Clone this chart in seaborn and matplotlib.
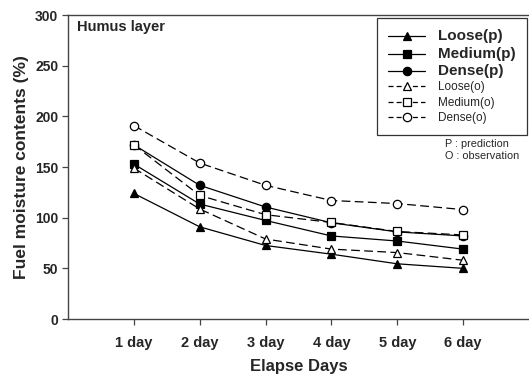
import matplotlib
matplotlib.use("Agg")
import matplotlib.pyplot as plt
import seaborn as sns
import pandas as pd

days = [1, 2, 3, 4, 5, 6]
day_labels = ["1 day", "2 day", "3 day", "4 day", "5 day", "6 day"]
loose_p = [124, 91, 72.6, 64, 54.5, 50]
medium_p = [153, 113.5, 97.3, 82, 77, 69]
dense_p = [172, 132, 110.6, 95, 86, 82]
loose_o = [149, 108.6, 79, 69, 65.6, 58]
medium_o = [172, 122, 103, 95.3, 86.4, 83]
dense_o = [191, 154, 132, 117, 114, 108]

series = [
    ("Loose(p)", loose_p, "^", "black", "-"),
    ("Medium(p)", medium_p, "s", "black", "-"),
    ("Dense(p)", dense_p, "o", "black", "-"),
    ("Loose(o)", loose_o, "^", "white", "--"),
    ("Medium(o)", medium_o, "s", "white", "--"),
    ("Dense(o)", dense_o, "o", "white", "--"),
]

sns.set_style("ticks")
plt.rcParams["font.family"] = ["Liberation Sans", "DejaVu Sans"]

fig = plt.figure(figsize=(5.29, 3.79), dpi=100)
ax = fig.add_axes([0.1285, 0.1583, 0.8715, 0.8017])

for name, vals, mk, fc, ls in series:
    df = pd.DataFrame({"day": days, "val": vals})
    sns.lineplot(data=df, x="day", y="val", ax=ax, color="black", lw=0.9,
                 marker=mk, markersize=6, markerfacecolor=fc,
                 markeredgecolor="black", markeredgewidth=0.9, label=name)
    l = ax.lines[-1]
    if ls == "--":
        l.set_dashes([7, 3.5])

ax.set_xlim(0, 7)
ax.set_ylim(0, 300)
ax.set_xticks(days)
ax.set_xticklabels(day_labels, fontsize=10.5, fontweight="bold")
ax.set_yticks([0, 50, 100, 150, 200, 250, 300])
ax.set_yticklabels(["0", "50", "100", "150", "200", "250", "300"], fontsize=10, fontweight="bold")
ax.tick_params(axis="both", direction="out", length=4, width=0.9, color="#444444", pad=3)
ax.tick_params(axis="x", pad=8)
for s in ["left", "bottom", "top"]:
    ax.spines[s].set_linewidth(1.0)
    ax.spines[s].set_color("#444444")
ax.spines["right"].set_visible(False)
ax.set_xlabel("Elapse Days", fontsize=12, fontweight="bold", labelpad=7)
ax.set_ylabel("Fuel moisture contents (%)", fontsize=12.5, fontweight="bold", labelpad=4)

ax.text(0.02, 0.985, "Humus layer", transform=ax.transAxes, fontsize=10.5, fontweight="bold",
        va="top", ha="left")

leg = ax.legend(loc="upper right", bbox_to_anchor=(0.996, 0.99), borderaxespad=0,
                frameon=True, fancybox=False, edgecolor="black", handlelength=3.3,
                handletextpad=1.2, borderpad=1.0, labelspacing=0.3, fontsize=8)
leg.get_frame().set_linewidth(0.9)
for i, t in enumerate(leg.get_texts()):
    if i < 3:
        t.set_fontsize(11)
        t.set_fontweight("bold")
    else:
        t.set_fontsize(8.5)
for h in leg.legend_handles[3:]:
    h.set_dashes([4, 2.5])

ax.text(0.818, 0.592, "P : prediction\nO : observation", transform=ax.transAxes, fontsize=7.8,
        va="top", ha="left", linespacing=1.25)

fig.savefig("out.png", dpi=100)
